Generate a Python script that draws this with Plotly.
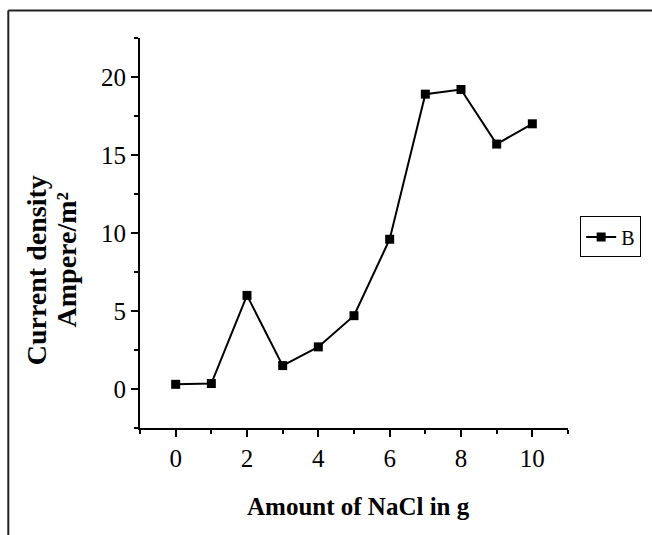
import plotly.graph_objects as go

# NaCl amount (g) vs. measured current density (A/m^2)
nacl_g = [0, 1, 2, 3, 4, 5, 6, 7, 8, 9, 10]
current_density = [0.3, 0.35, 6.0, 1.5, 2.7, 4.7, 9.6, 18.9, 19.2, 15.7, 17.0]
series_name = "B"

x_ticks = [0, 2, 4, 6, 8, 10]
y_ticks = [0, 5, 10, 15, 20]

x_title = "Amount of NaCl in g"
y_title_line1 = "Current density"
y_title_line2 = "Ampere/m²"

SERIF = "Liberation Serif, Times New Roman, serif"

fig = go.Figure()
fig.add_trace(go.Scatter(
    x=nacl_g, y=current_density, name=series_name,
    mode="lines+markers",
    line=dict(color="black", width=2),
    marker=dict(symbol="square", size=9, color="black"),
))

axis_common = dict(
    showline=True, linecolor="black", linewidth=2,
    ticks="outside", ticklen=7, tickwidth=2, tickcolor="black",
    showgrid=False, zeroline=False, mirror=False,
    tickfont=dict(family=SERIF, size=25, color="black"),
)

fig.update_xaxes(
    range=[-1, 11], tickvals=x_ticks,
    minor=dict(ticks="outside", ticklen=4, tickwidth=2, tickcolor="black",
               tickvals=[-1, 1, 3, 5, 7, 9, 11]),
    **axis_common,
)
fig.update_yaxes(
    range=[-2.5, 22.5], tickvals=y_ticks,
    minor=dict(ticks="outside", ticklen=4, tickwidth=2, tickcolor="black",
               tickvals=[-2.5, 2.5, 7.5, 12.5, 17.5, 22.5]),
    **axis_common,
)

title_font = dict(family=SERIF, size=28, color="black", weight="bold")
annotations = [
    dict(text=x_title, xref="paper", yref="paper", x=0.51, y=-0.2,
         xanchor="center", yanchor="middle", showarrow=False,
         font=dict(family=SERIF, size=25, color="black", weight="bold")),
    dict(text=y_title_line1, xref="paper", yref="paper", x=-0.2424, y=0.405,
         xanchor="center", yanchor="middle", showarrow=False, textangle=-90,
         font=title_font),
    dict(text=y_title_line2, xref="paper", yref="paper", x=-0.1725, y=0.43,
         xanchor="center", yanchor="middle", showarrow=False, textangle=-90,
         font=title_font),
]

# outer frame: only the top and left edges lie inside the page
frame = dict(color="#222222", width=2)
shapes = [
    dict(type="line", xref="paper", yref="paper",
         x0=-0.3077, y0=1.0705, x1=1.25, y1=1.0705, line=frame),
    dict(type="line", xref="paper", yref="paper",
         x0=-0.3077, y0=1.0705, x1=-0.3077, y1=-0.3, line=frame),
]

fig.update_layout(
    width=652, height=535,
    margin=dict(l=140, r=83, t=38, b=107),
    paper_bgcolor="white", plot_bgcolor="white",
    showlegend=True,
    legend=dict(
        x=1.026, y=0.49, xanchor="left", yanchor="middle",
        bordercolor="black", borderwidth=1, bgcolor="white",
        font=dict(family=SERIF, size=20, color="black"),
        itemwidth=30, tracegroupgap=0,
    ),
    annotations=annotations,
    shapes=shapes,
)

fig.write_html("out.html")
